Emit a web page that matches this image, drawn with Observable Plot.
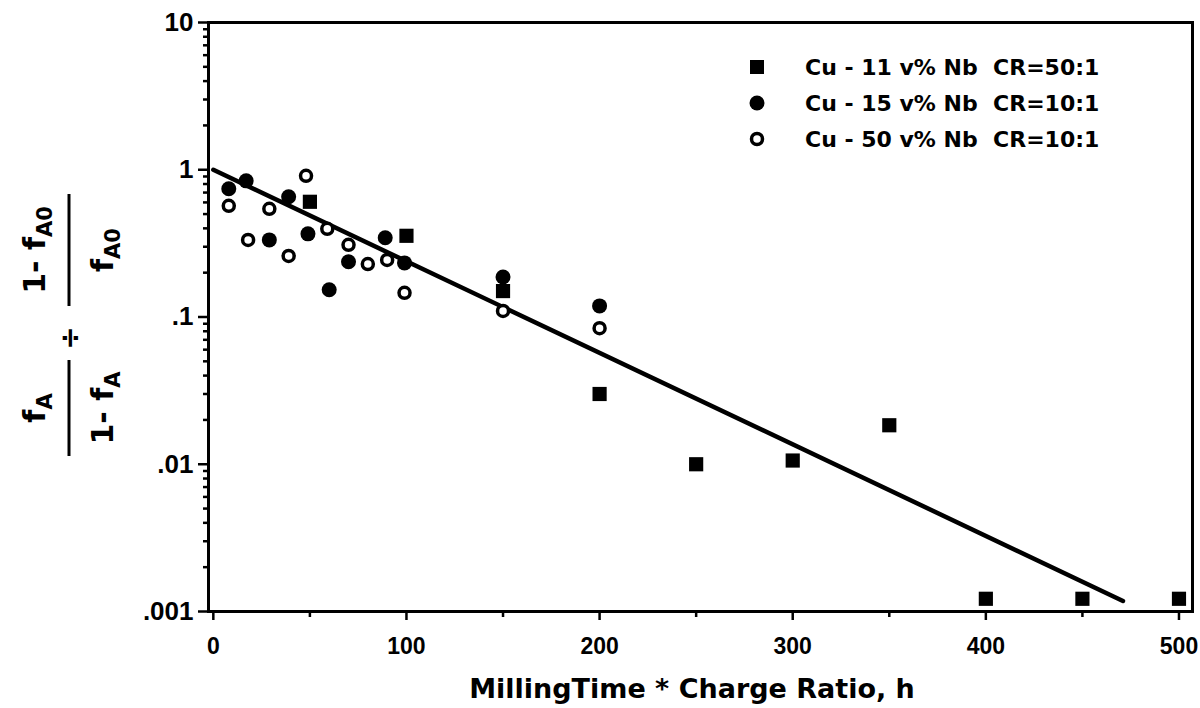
<!DOCTYPE html>
<html><head><meta charset="utf-8">
<script src="https://cdn.jsdelivr.net/npm/d3@7"></script>
<script src="https://cdn.jsdelivr.net/npm/@observablehq/plot@0.6"></script>
<style>body{margin:0;background:#fff;}</style>
</head><body><div id="chart"></div>
<script>
// ---- data ----
const cu11X = [50, 100, 150, 200, 250, 300, 350, 400, 450, 500];
const cu11Y = [0.606, 0.356, 0.150, 0.030, 0.0100, 0.0106, 0.0184, 0.00122, 0.00122, 0.00122];
const cu15X = [8, 17, 29, 39, 49, 60, 70, 89, 99, 150, 200];
const cu15Y = [0.743, 0.841, 0.334, 0.655, 0.367, 0.153, 0.237, 0.345, 0.233, 0.187, 0.119];
const cu50X = [8, 18, 29, 39, 48, 59, 70, 80, 90, 99, 150, 200];
const cu50Y = [0.569, 0.334, 0.543, 0.260, 0.91, 0.397, 0.309, 0.229, 0.244, 0.146, 0.110, 0.084];
const fitX = [0, 471];
const fitY = [1, 0.00118];
const seriesNames = ["Cu - 11 v% Nb  CR=50:1", "Cu - 15 v% Nb  CR=10:1", "Cu - 50 v% Nb  CR=10:1"];
const xTickValues = [0, 100, 200, 300, 400, 500];
const xMinorTicks = [50, 150, 250, 350, 450];
const yTickValues = [10, 1, 0.1, 0.01, 0.001];
const yTickLabels = ["10", "1", ".1", ".01", ".001"];
const yMinorTicks = [];
for (const e of [0.001, 0.01, 0.1, 1]) for (let k = 2; k <= 9; k++) yMinorTicks.push(+(k * e).toPrecision(3));
const xTitle = "MillingTime * Charge Ratio, h";

const zip = (xs, ys) => xs.map((x, i) => ({x, y: ys[i]}));
const FONT = "'Liberation Sans', Arial, Helvetica, sans-serif";
const WIDE = "'DejaVu Sans', Verdana, sans-serif";

const plot = Plot.plot({
  width: 1200, height: 708,
  marginLeft: 208, marginRight: 8, marginTop: 22, marginBottom: 97,
  style: {fontFamily: FONT, fontWeight: "bold", fontSize: "23px", background: "#fff", color: "#000", overflow: "visible"},
  x: {domain: [-2.5, 507]},
  y: {type: "log", domain: [0.001, 10]},
  marks: [
    Plot.axisX({ticks: xTickValues, tickSize: 9, tickPadding: 17, tickFormat: d => String(d), strokeWidth: 2.5, label: null}),
    Plot.axisX({ticks: xMinorTicks, tickSize: 6, tickFormat: () => "", strokeWidth: 2.5, label: null}),
    Plot.axisY({ticks: yTickValues, tickSize: 10, tickPadding: 5, tickFormat: d => yTickLabels[yTickValues.indexOf(d)], strokeWidth: 2.5, label: null}),
    Plot.axisY({ticks: yMinorTicks, tickSize: 5, tickFormat: () => "", strokeWidth: 2.5, label: null}),
    Plot.frame({strokeWidth: 3}),
    Plot.line(zip(fitX, fitY), {x: "x", y: "y", stroke: "black", strokeWidth: 4.5}),
    Plot.dot(zip(cu11X, cu11Y), {x: "x", y: "y", symbol: "square", r: 8, fill: "black"}),
    Plot.dot(zip(cu15X, cu15Y), {x: "x", y: "y", r: 7.5, fill: "black"}),
    Plot.dot(zip(cu50X, cu50Y), {x: "x", y: "y", r: 5.5, fill: "white", stroke: "black", strokeWidth: 3.5})
  ]
});
document.getElementById("chart").appendChild(plot);

const svg = d3.select(plot);
// slightly larger y tick labels, as in the original
svg.selectAll("g[aria-label='y-axis tick label']").attr("font-size", 26);

// x-axis title
svg.append("text").attr("x", 692).attr("y", 698).attr("text-anchor", "middle")
  .attr("font-family", WIDE).attr("font-weight", "bold").attr("font-size", 27).text(xTitle);

// legend
const lg = svg.append("g").attr("font-family", WIDE).attr("font-weight", "bold").attr("font-size", 22).attr("text-anchor", "start");
const rowsY = [67, 103, 139];
lg.append("rect").attr("x", 750).attr("y", rowsY[0] - 7).attr("width", 14).attr("height", 14).attr("fill", "black");
lg.append("circle").attr("cx", 757).attr("cy", rowsY[1]).attr("r", 7.5).attr("fill", "black");
lg.append("circle").attr("cx", 757).attr("cy", rowsY[2]).attr("r", 5.5).attr("fill", "white").attr("stroke", "black").attr("stroke-width", 3.5);
seriesNames.forEach((s, i) => {
  lg.append("text").attr("x", 805).attr("y", rowsY[i] + 8).attr("xml:space", "preserve").style("white-space", "pre").text(s);
});

// y-axis label (rotated fraction expression)
const yl = svg.append("g").attr("transform", "translate(69,338) rotate(-90)")
  .attr("font-family", WIDE).attr("font-weight", "bold").attr("font-size", 30).attr("text-anchor", "middle");
function frac(cx, num, den, len) {
  yl.append("line").attr("x1", cx - len / 2).attr("x2", cx + len / 2).attr("y1", 0).attr("y2", 0)
    .attr("stroke", "black").attr("stroke-width", 3);
  const n = yl.append("text").attr("x", cx).attr("y", -24);
  num(n);
  const d = yl.append("text").attr("x", cx).attr("y", 44);
  den(d);
}
// first fraction: f_A / (1- f_A)
frac(-70, t => { t.append("tspan").text("f"); t.append("tspan").attr("dy", 7).attr("font-size", 21).text("A"); },
  t => { t.append("tspan").text("1- f"); t.append("tspan").attr("dy", 7).attr("font-size", 21).text("A"); }, 96);
// divide sign
yl.append("text").attr("x", 0).attr("y", 10).attr("font-size", 28).text("÷");
// second fraction: (1- f_A0) / f_A0
frac(88, t => { t.append("tspan").text("1- f"); t.append("tspan").attr("dy", 7).attr("font-size", 21).text("A0"); },
  t => { t.append("tspan").text("f"); t.append("tspan").attr("dy", 7).attr("font-size", 21).text("A0"); }, 112);
</script>
</body></html>
